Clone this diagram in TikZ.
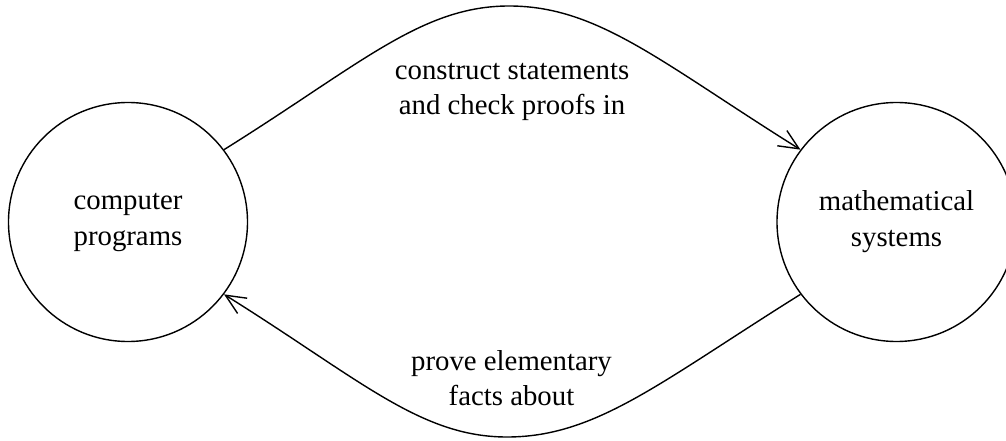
\documentclass[tikz,border=0pt]{standalone}
\usepackage{fontspec}
\setmainfont{Liberation Serif}
\usetikzlibrary{arrows.meta}
\tikzset{
  blob/.style={circle,draw,line width=0.7pt,minimum size=119.5pt,inner sep=0pt,align=center,
    font=\fontsize{14.4pt}{18pt}\selectfont},
  edgelabel/.style={align=center,inner sep=0pt,font=\fontsize{14.4pt}{17.5pt}\selectfont},
  link/.style={line width=0.7pt,-{Straight Barb[length=10pt,width=9pt,line width=0.7pt]}}
}
\begin{document}
\begin{tikzpicture}[x=0.5pt,y=0.5pt]
\useasboundingbox (0,0) rectangle (1006,440);
\clip (0,0) rectangle (1006,440);
\node[blob] (L) at (128,218) {computer\\programs};
\node[blob] (R) at (896.5,218) {mathematical\\systems};
\coordinate (tp) at (509,434);
\coordinate (bp) at (507,3);
\node[edgelabel] (tl) at (512,347.7) {construct statements\\and check proofs in};
\node[edgelabel] (bl) at (511.5,62.3) {prove elementary\\facts about};
\draw[link] (L.37) to[out=32,in=180,out looseness=1.3,in looseness=0.7] (tp)
  to[out=0,in=148,out looseness=0.7,in looseness=1.3] (R.143);
\draw[link] (R.217) to[out=212,in=0,out looseness=1.3,in looseness=0.7] (bp)
  to[out=180,in=-32,out looseness=0.7,in looseness=1.3] (L.-37);
\end{tikzpicture}
\end{document}
